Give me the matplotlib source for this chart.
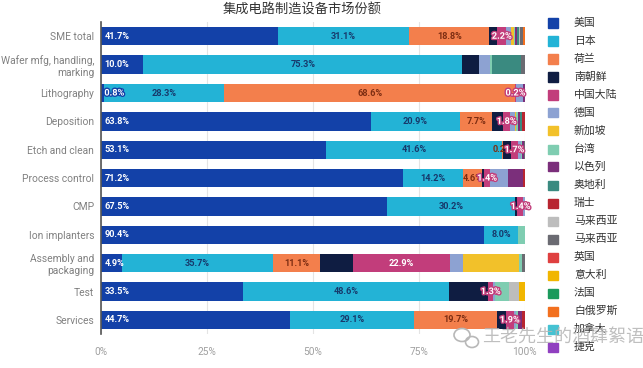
import numpy as np
import matplotlib.pyplot as plt
import matplotlib.patheffects as pe
from matplotlib.patches import Rectangle, Ellipse

plt.rcParams['font.family'] = ['Roboto', 'Noto Sans CJK SC', 'DejaVu Sans']

# segments (rows top to bottom)
segments = ['SME total', 'Wafer mfg, handling,\nmarking', 'Lithography', 'Deposition',
            'Etch and clean', 'Process control', 'CMP', 'Ion implanters',
            'Assembly and\npackaging', 'Test', 'Services']

countries = ['美国', '日本', '荷兰', '南朝鲜', '中国大陆', '德国', '新加坡', '台湾', '以色列',
             '奥地利', '瑞士', '马来西亚', '马来西亚', '英国', '意大利', '法国', '白俄罗斯',
             '加拿大', '捷克']
colors = ['#1341a8', '#23b3d6', '#f37f4c', '#0f1d42', '#c23d7b', '#8da2d2', '#f2c12a',
          '#7fcdb1', '#7b2f7b', '#3a8a80', '#b82530', '#bdbdbd', '#6b6b72', '#df4040',
          '#f1b600', '#1b9a5c', '#f2701f', '#45c2d2', '#9040c0']

# market share (%) per country, one value per segment
us = [41.7, 10.0, 0.8, 63.8, 53.1, 71.2, 67.5, 90.4, 4.9, 33.5, 44.7]
japan = [31.1, 75.3, 28.3, 20.9, 41.6, 14.2, 30.2, 8.0, 35.7, 48.6, 29.1]
netherlands = [18.8, 0, 68.6, 7.7, 0.2, 4.6, 0, 0, 11.1, 0, 19.7]
korea = [1.9, 3.8, 0, 2.4, 1.8, 0.4, 0.6, 0, 7.8, 9.2, 2.0]
china = [2.2, 0, 0.2, 1.8, 1.7, 1.4, 1.4, 0, 22.9, 1.3, 1.9]
germany = [1.0, 2.6, 1.6, 1.0, 0.8, 4.2, 0.3, 0, 3.1, 0.4, 0.6]
singapore = [0.8, 0, 0, 0.3, 0, 0, 0, 0, 13.2, 0, 0]
taiwan = [0.3, 0.7, 0, 0.5, 0.2, 0, 0, 1.6, 0.6, 3.4, 0.4]
israel = [0.5, 0, 0.5, 0.6, 0.4, 3.6, 0, 0, 0, 0, 1.0]
austria = [0.4, 6.8, 0, 0.3, 0, 0, 0, 0, 0, 0, 0]
switzerland = [0, 0, 0, 0.7, 0, 0.4, 0, 0, 0, 0, 0.6]
malaysia_a = [0.3, 0, 0, 0, 0, 0, 0, 0, 0, 2.3, 0]
malaysia_b = [0.5, 0.8, 0, 0, 0.2, 0, 0, 0, 0.7, 0, 0]
uk = [0] * 11
italy = [0, 0, 0, 0, 0, 0, 0, 0, 0, 1.3, 0]
france = [0] * 11
belarus = [0.5, 0, 0, 0, 0, 0, 0, 0, 0, 0, 0]
canada = [0] * 11
czech = [0] * 11

shares = [us, japan, netherlands, korea, china, germany, singapore, taiwan, israel,
          austria, switzerland, malaysia_a, malaysia_b, uk, italy, france, belarus,
          canada, czech]

# labelled countries: index -> text colour
label_colors = {0: 'white', 1: '#17396b', 2: '#7d2d12', 4: 'white'}

fig = plt.figure(figsize=(6.43, 3.68), dpi=100)
ax = fig.add_axes([0.157, 0.092, 0.659, 0.848])

y = np.arange(len(segments))
left = np.zeros(len(segments))
for i, vals in enumerate(shares):
    vals = np.array(vals, dtype=float)
    ax.barh(y, vals, left=left, height=0.65, color=colors[i], zorder=2)
    if i in label_colors:
        for j, v in enumerate(vals):
            if v <= 0:
                continue
            txt = f'{v:.1f}%'
            if i == 0:
                x, ha = left[j] + 0.8, 'left'
            else:
                x, ha = left[j] + v / 2, 'center'
            t = ax.text(x, j, txt, ha=ha, va='center', fontsize=6.6, fontweight='bold',
                        color=label_colors[i], zorder=3)
            if v < 3 and i != 2:
                t.set_path_effects([pe.withStroke(linewidth=2, foreground=colors[i])])
    left += vals

ax.set_xlim(0, 100)
ax.set_ylim(len(segments) - 0.5, -0.5)
ax.set_yticks(y)
ax.set_yticklabels(segments, fontsize=7.4, color='#808080', multialignment='right')
ax.set_xticks([0, 25, 50, 75, 100])
ax.set_xticklabels(['0%', '25%', '50%', '75%', '100%'], fontsize=7.3, color='#a0a0a0')
ax.tick_params(length=0, pad=5)
ax.tick_params(axis='x', pad=9)
ax.grid(axis='x', color='#e4e4e4', linewidth=0.8, zorder=0)
for s in ['top', 'right', 'bottom']:
    ax.spines[s].set_visible(False)
ax.spines['left'].set_color('#555555')
ax.spines['left'].set_linewidth(1.2)
ax.spines['left'].set_zorder(4)

fig.text(0.47, 0.972, '集成电路制造设备市场份额', ha='center', va='center',
         fontsize=9.5, color='#333333', family=['Noto Sans CJK SC'])

# legend on the right
for k, name in enumerate(countries):
    yc = 1 - (23 + k * 18.0) / 368
    fig.add_artist(Rectangle((548 / 643, yc - 4.5 / 368), 10 / 643, 9 / 368,
                             transform=fig.transFigure, color=colors[k]))
    fig.text(574 / 643, yc, name, ha='left', va='center', fontsize=7.8,
             color='#333333', family=['Noto Sans CJK SC'])

# watermark
for (ex, ey, ew, eh) in [(462, 335, 16, 13), (472, 342, 13, 11)]:
    fig.add_artist(Ellipse((ex / 643, 1 - ey / 368), ew / 643, eh / 368,
                           transform=fig.transFigure, fill=False,
                           edgecolor='#b8b8b8', linewidth=1.2))
fig.text(482 / 643, 1 - 338 / 368, '王老先生的酒肆絮语', ha='left', va='center',
         fontsize=13, color='#b4b4b4', alpha=0.85, family=['Noto Sans CJK SC'])

fig.savefig('out.png', dpi=100)
